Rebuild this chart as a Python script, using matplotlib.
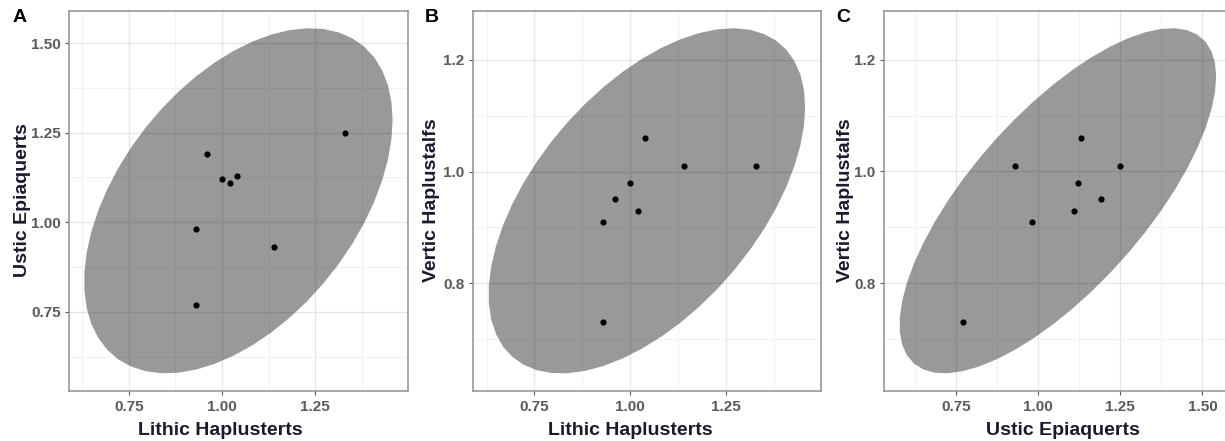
import numpy as np
import matplotlib
matplotlib.use("Agg")
import matplotlib.pyplot as plt
from matplotlib.ticker import MultipleLocator, FormatStrFormatter

plt.rcParams['font.family'] = ['Liberation Sans', 'DejaVu Sans']

# 8 profiles
lithic_haplusterts = [1.33, 0.96, 1.00, 1.02, 1.04, 1.14, 0.93, 0.93]
ustic_epiaquerts = [1.25, 1.19, 1.12, 1.11, 1.13, 0.93, 0.98, 0.77]
vertic_haplustalfs = [1.01, 0.95, 0.98, 0.93, 1.06, 1.01, 0.91, 0.73]

panels = [
    ("A", "Lithic Haplusterts", "Ustic Epiaquerts", lithic_haplusterts, ustic_epiaquerts),
    ("B", "Lithic Haplusterts", "Vertic Haplustalfs", lithic_haplusterts, vertic_haplustalfs),
    ("C", "Ustic Epiaquerts", "Vertic Haplustalfs", ustic_epiaquerts, vertic_haplustalfs),
]


def ellipse(xs, ys, level=0.95, segments=51):
    # normal-theory data ellipse, same recipe as ggplot stat_ellipse(type="norm")
    data = np.column_stack([xs, ys])
    cov = np.cov(data, rowvar=False)
    center = data.mean(0)
    dfd = len(xs) - 1
    # F(2, dfd) quantile has a closed form
    qf = dfd / 2 * ((1 - level) ** (-2 / dfd) - 1)
    radius = np.sqrt(2 * qf)
    chol = np.linalg.cholesky(cov).T
    ang = np.linspace(0, 2 * np.pi, segments + 1)
    circ = np.column_stack([np.cos(ang), np.sin(ang)])
    return center + radius * circ @ chol


W, H = 1225, 441
fig = plt.figure(figsize=(W / 100, H / 100), dpi=100)

# axes boxes in pixels: left, right ; shared top/bottom
boxes = [(69, 408), (473, 821), (884, 1232)]
top, bottom = 11, 390.5
xlab_x = [220, 630, 1063]
ylab_x = [22.7, 431.7, 845]
tag_x = [19.5, 431.5, 843]

for i, (tag, xl, yl, xs, ys) in enumerate(panels):
    l, r = boxes[i]
    ax = fig.add_axes([l / W, 1 - bottom / H, (r - l) / W, (bottom - top) / H])
    ell = ellipse(xs, ys)
    ax.fill(ell[:, 0], ell[:, 1], color='black', alpha=0.4, lw=0, zorder=2)
    ax.scatter(xs, ys, s=20, color='black', zorder=3, lw=0)

    allx = np.concatenate([ell[:, 0], xs])
    ally = np.concatenate([ell[:, 1], ys])
    for vals, setter in ((allx, ax.set_xlim), (ally, ax.set_ylim)):
        lo, hi = vals.min(), vals.max()
        pad = (hi - lo) * 0.05
        setter(lo - pad, hi + pad)

    ax.xaxis.set_major_locator(MultipleLocator(0.25))
    ax.xaxis.set_minor_locator(MultipleLocator(0.125))
    ax.xaxis.set_major_formatter(FormatStrFormatter('%.2f'))
    if tag == "A":
        ax.yaxis.set_major_locator(MultipleLocator(0.25))
        ax.yaxis.set_minor_locator(MultipleLocator(0.125))
        ax.yaxis.set_major_formatter(FormatStrFormatter('%.2f'))
    else:
        ax.yaxis.set_major_locator(MultipleLocator(0.2))
        ax.yaxis.set_minor_locator(MultipleLocator(0.1))
        ax.yaxis.set_major_formatter(FormatStrFormatter('%.1f'))

    ax.set_axisbelow(True)
    ax.grid(which='major', color='#e6e6e6', lw=1.0, zorder=0)
    ax.grid(which='minor', color='#f1f1f1', lw=0.7, zorder=0)
    ax.tick_params(which='major', length=3, width=0.8, color='#555555',
                   labelsize=11, labelcolor='#5a5a5a')
    ax.tick_params(axis='x', pad=4)
    ax.tick_params(axis='y', pad=3)
    ax.tick_params(which='minor', length=0)
    for lab in ax.get_xticklabels() + ax.get_yticklabels():
        lab.set_fontweight('bold')
    for sp in ax.spines.values():
        sp.set_color('#8f8f8f')
        sp.set_linewidth(1.1)

    fig.text(xlab_x[i] / W, 1 - 435 / H, xl, ha='center', va='baseline',
             fontsize=14, fontweight='bold', color='#1a1a2e')
    fig.text(ylab_x[i] / W, 1 - 200 / H, yl, ha='center', va='center', rotation=90,
             fontsize=14, fontweight='bold', color='#1a1a2e')
    fig.text(tag_x[i] / W, 1 - 17.5 / H, tag, ha='center', va='center',
             fontsize=14, fontweight='bold', color='black')

fig.savefig('out.png', dpi=100)
